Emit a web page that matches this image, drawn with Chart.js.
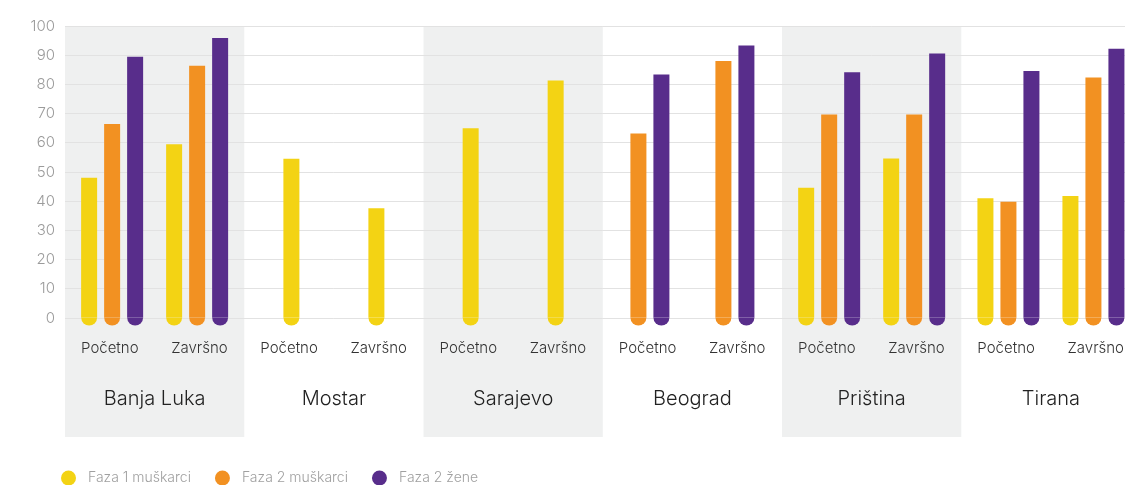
<!DOCTYPE html>
<html>
<head>
<meta charset="utf-8">
<script src="https://cdn.jsdelivr.net/npm/chart.js@4.4.1/dist/chart.umd.min.js"></script>
<style>
  html, body { margin: 0; padding: 0; background: #fff; overflow: hidden; }
  #wrap { width: 1145px; height: 485px; }
</style>
</head>
<body>
<div id="wrap"><canvas id="chart" width="1145" height="485"></canvas></div>
<script>
// gradovi i faze
const cities = ['Banja Luka', 'Mostar', 'Sarajevo', 'Beograd', 'Priština', 'Tirana'];
const phases = ['Početno', 'Završno'];

// vrijednosti po kategoriji (Početno / Završno za svaki grad)
const faza1Muskarci = [48, 59.5, 54.5, 37.6, 65, 81.3, null, null, 44.6, 54.6, 41, 41.8];
const faza2Muskarci = [66.4, 86.4, null, null, null, null, 63.2, 88, 69.7, 69.7, 39.8, 82.4];
const faza2Zene = [89.5, 95.9, null, null, null, null, 83.4, 93.3, 84.2, 90.6, 84.6, 92.2];

const yTicks = [0, 10, 20, 30, 40, 50, 60, 70, 80, 90, 100];

const labels = [];
cities.forEach(function () { phases.forEach(function (p) { labels.push(p); }); });

const FONT = 'Inter, "Noto Sans", sans-serif';
const BAR_GAP = 23;
const PHASE_HALF = 42.5;

// sive trake iza svakog drugog grada
const bandPlugin = {
    id: 'bands',
    beforeDraw(chart) {
        const ctx = chart.ctx;
        const x2 = chart.scales.x2;
        const half = (x2.getPixelForValue(1) - x2.getPixelForValue(0)) / 2;
        ctx.save();
        ctx.fillStyle = '#eff0f0';
        cities.forEach(function (c, i) {
            if (i % 2 === 0) {
                const cx = x2.getPixelForValue(i);
                ctx.fillRect(cx - half, chart.chartArea.top, half * 2, x2.bottom - chart.chartArea.top);
            }
        });
        ctx.restore();
    }
};

// stupci iste kategorije uvijek na istom razmaku, faze bliže sredini grada
const spacingPlugin = {
    id: 'spacing',
    afterDatasetsUpdate(chart) {
        const x2 = chart.scales.x2;
        labels.forEach(function (l, i) {
            const els = [];
            chart.data.datasets.forEach(function (ds, d) {
                if (ds.data[i] !== null) els.push(chart.getDatasetMeta(d).data[i]);
            });
            const center = x2.getPixelForValue(Math.floor(i / 2)) + (i % 2 === 0 ? -PHASE_HALF : PHASE_HALF);
            els.forEach(function (el, k) {
                el.x = center + (k - (els.length - 1) / 2) * BAR_GAP;
            });
        });
    }
};

// zaobljeni donji kraj stupaca
const capPlugin = {
    id: 'caps',
    afterDatasetsDraw(chart) {
        const ctx = chart.ctx;
        ctx.save();
        chart.data.datasets.forEach(function (ds, d) {
            const meta = chart.getDatasetMeta(d);
            meta.data.forEach(function (el, i) {
                if (ds.data[i] === null) return;
                ctx.fillStyle = ds.backgroundColor;
                ctx.beginPath();
                ctx.arc(el.x, el.base, el.width / 2, 0, Math.PI);
                ctx.fill();
            });
        });
        ctx.restore();
    }
};

// legenda ispod grafikona
const legendPlugin = {
    id: 'customLegend',
    afterDraw(chart) {
        const ctx = chart.ctx;
        let x = 61;
        const y = 478;
        ctx.save();
        ctx.font = '300 14px ' + FONT;
        ctx.textBaseline = 'middle';
        chart.data.datasets.forEach(function (ds) {
            ctx.fillStyle = ds.backgroundColor;
            ctx.beginPath();
            ctx.arc(x + 7.5, y, 7.5, 0, Math.PI * 2);
            ctx.fill();
            x += 15 + 12;
            ctx.fillStyle = '#a0a0a0';
            ctx.fillText(ds.label, x, y);
            x += ctx.measureText(ds.label).width + 24;
        });
        ctx.restore();
    }
};

new Chart(document.getElementById('chart'), {
    type: 'bar',
    data: {
        labels: labels,
        datasets: [{
            label: 'Faza 1 muškarci',
            data: faza1Muskarci,
            backgroundColor: '#f3d314'
        }, {
            label: 'Faza 2 muškarci',
            data: faza2Muskarci,
            backgroundColor: '#f29122'
        }, {
            label: 'Faza 2 žene',
            data: faza2Zene,
            backgroundColor: '#582d8b'
        }]
    },
    options: {
        responsive: false,
        animation: false,
        skipNull: true,
        categoryPercentage: 0.77,
        barPercentage: 0.7,
        maxBarThickness: 16,
        layout: { padding: { top: 26, bottom: 48, left: 0, right: 0 } },
        plugins: {
            legend: { display: false },
            tooltip: { enabled: false }
        },
        scales: {
            y: {
                min: 0,
                max: 100,
                afterFit(scale) { scale.width = 65; },
                afterBuildTicks(scale) { scale.ticks = yTicks.map(function (v) { return { value: v }; }); },
                border: { display: false },
                grid: { color: '#e2e2e2', drawTicks: false },
                ticks: {
                    padding: 10,
                    color: '#9b9b9b',
                    font: { family: FONT, size: 15, weight: 300 }
                }
            },
            x: {
                afterFit(scale) { scale.height = 39; },
                border: { display: false },
                grid: { display: false, drawTicks: false },
                ticks: {
                    padding: 21,
                    maxRotation: 0,
                    autoSkip: false,
                    color: '#333',
                    font: { family: FONT, size: 15, weight: 300 }
                }
            },
            x2: {
                type: 'category',
                labels: cities,
                position: 'bottom',
                offset: true,
                afterFit(scale) { scale.height = 80; },
                border: { display: false },
                grid: { display: false, drawTicks: false },
                ticks: {
                    padding: 30,
                    maxRotation: 0,
                    autoSkip: false,
                    color: '#222',
                    font: { family: FONT, size: 20, weight: 300 }
                }
            }
        }
    },
    plugins: [bandPlugin, spacingPlugin, capPlugin, legendPlugin]
});
</script>
</body>
</html>
